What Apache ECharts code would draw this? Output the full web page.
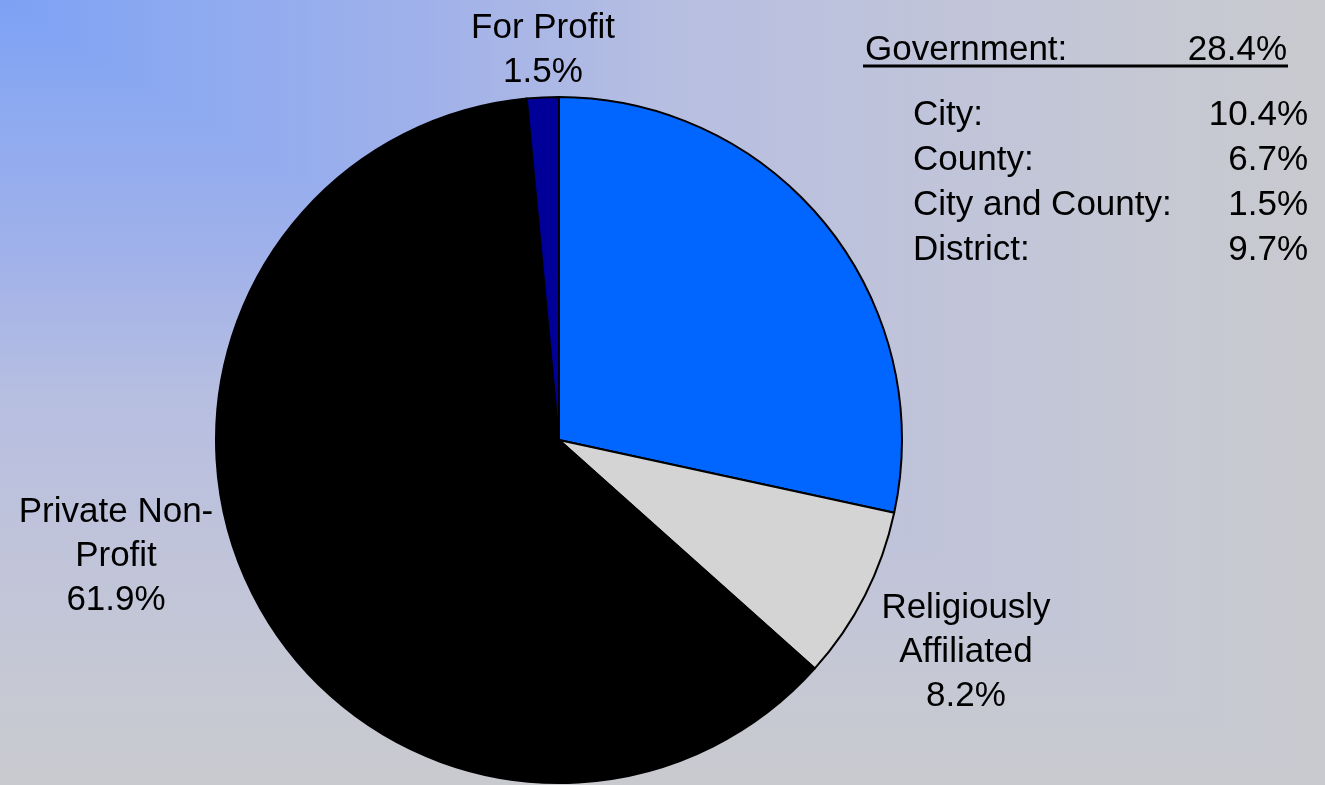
<!DOCTYPE html>
<html>
<head>
<meta charset="utf-8">
<title>Ownership of Institutions</title>
<script src="https://cdn.jsdelivr.net/npm/echarts@6/dist/echarts.min.js"></script>
<style>
  html, body { margin: 0; padding: 0; width: 100%; height: 100%; overflow: hidden; }
  #chart { width: 100vw; height: 100vh; }
</style>
</head>
<body>
<div id="chart"></div>
<script>
// Ownership shares (percent of total)
const shareNames  = ['Government', 'Religiously Affiliated', 'Private Non-Profit', 'For Profit'];
const shareValues = [28.4, 8.2, 61.9, 1.5];
// Wrapped captions shown beside the slices (Government is described in the side panel)
const shareCaptions = ['', 'Religiously\nAffiliated', 'Private Non-\nProfit', 'For Profit'];

// Breakdown of the Government share
const govPartNames  = ['City:', 'County:', 'City and County:', 'District:'];
const govPartValues = [10.4, 6.7, 1.5, 9.7];

const sliceColors = ['#0066ff', '#d4d4d4', '#000000', '#000099'];
const FONT = '"Liberation Sans", Arial, Helvetica, sans-serif';

const chart = echarts.init(document.getElementById('chart'));
const W = chart.getWidth();
const H = chart.getHeight();

// Corner-style background: colour follows max(x/W, y/H) from the top-left corner
const bgStops = [
  { offset: 0.00, color: '#7ea1f4' },
  { offset: 0.15, color: '#8eaaf0' },
  { offset: 0.32, color: '#a0b1ea' },
  { offset: 0.50, color: '#b6bee1' },
  { offset: 0.70, color: '#c0c4da' },
  { offset: 0.88, color: '#c6c8d3' },
  { offset: 1.00, color: '#c9cacf' }
];

// Label anchors for the captioned slices (pixel centres of each text block)
const labelAnchors = [null, [966, 652], [116, 556], [543, 50]];

const fmt = v => v.toFixed(1) + '%';

const pieData = shareNames.map((name, i) => ({
  name: name,
  value: shareValues[i],
  itemStyle: { color: sliceColors[i] },
  label: { show: shareCaptions[i] !== '' }
}));

const panelText = (text, x, y, align) => ({
  type: 'text',
  x: x, y: y,
  silent: true,
  style: {
    text: text,
    fill: '#000',
    font: '35px ' + FONT,
    textAlign: align,
    textVerticalAlign: 'middle'
  }
});

const panel = [
  panelText(shareNames[0] + ':', 865, 50, 'left'),
  panelText(fmt(shareValues[0]), 1287, 50, 'right'),
  {
    type: 'line', silent: true,
    shape: { x1: 863, y1: 66, x2: 1288, y2: 66 },
    style: { stroke: '#000', lineWidth: 3 }
  }
];
govPartNames.forEach((n, i) => {
  panel.push(panelText(n, 913, 115 + i * 45, 'left'));
  panel.push(panelText(fmt(govPartValues[i]), 1308, 115 + i * 45, 'right'));
});

chart.setOption({
  animation: false,
  backgroundColor: '#c0c4da',
  graphic: [
    {
      type: 'rect', silent: true, z: -20,
      shape: { x: 0, y: 0, width: W, height: H },
      style: { fill: new echarts.graphic.LinearGradient(0, 0, 0, H, bgStops, true) }
    },
    {
      type: 'polygon', silent: true, z: -19,
      shape: { points: [[0, 0], [W, 0], [W, H]] },
      style: { fill: new echarts.graphic.LinearGradient(0, 0, W, 0, bgStops, true) }
    }
  ].concat(panel),
  series: [{
    type: 'pie',
    center: [559, 440],
    radius: 343,
    startAngle: 90,
    clockwise: true,
    silent: true,
    emphasis: { disabled: true },
    itemStyle: { borderColor: '#000', borderWidth: 2 },
    label: {
      position: 'outside',
      color: '#000',
      fontFamily: FONT,
      fontSize: 35,
      lineHeight: 44,
      align: 'center',
      overflow: 'none',
      formatter: p => shareCaptions[p.dataIndex] + '\n' + fmt(p.value)
    },
    labelLine: { show: false },
    labelLayout: params => {
      const a = labelAnchors[params.dataIndex];
      if (!a) return {};
      return { x: a[0], y: a[1], align: 'center', verticalAlign: 'middle', width: 400 };
    },
    data: pieData
  }]
});
</script>
</body>
</html>
